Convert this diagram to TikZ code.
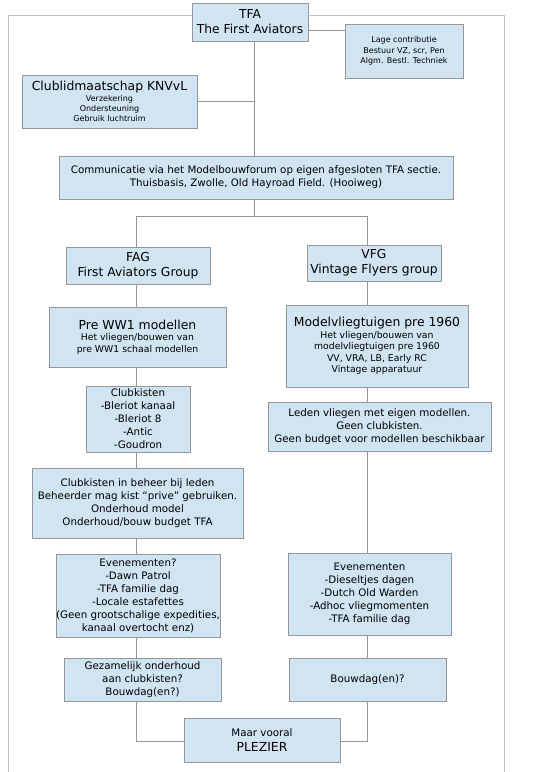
\documentclass[tikz,border=0pt]{standalone}
\usepackage{fontspec}
\setmainfont{DejaVu Sans}
\usepackage{tikz}

\definecolor{boxblue}{RGB}{208,228,242}
\definecolor{boxline}{RGB}{150,150,150}
\definecolor{framegray}{RGB}{192,192,192}

\newcommand{\txtbig}{\fontsize{12.4}{13.5}\selectfont}
\newcommand{\txttitle}{\fontsize{12.3}{15}\selectfont}
\newcommand{\txtmed}{\fontsize{10.3}{13}\selectfont}
\newcommand{\txtsub}{\fontsize{9.3}{11.5}\selectfont}
\newcommand{\txtsmall}{\fontsize{8}{10.3}\selectfont}

\tikzset{
  box/.style={draw=boxline, fill=boxblue, align=center, inner sep=0pt,
    font=\txtmed},
  link/.style={draw=boxline, line width=0.8pt},
  frame/.style={draw=framegray, line width=0.8pt}
}

\begin{document}
\begin{tikzpicture}[x=1pt,y=-1pt]
\useasboundingbox (0,0) rectangle (541,772);

% kolommen
\coordinate (trunk) at (254,0);
\coordinate (lcol) at (136,0);
\coordinate (rcol) at (367,0);
\coordinate (tie) at (0,30);
\coordinate (split) at (0,216);
\coordinate (foot) at (0,741);

\node [box, minimum width=116, minimum height=38, font=\txttitle] (tfa) at (250,22) {TFA\\The First Aviators};
\node [box, minimum width=118, minimum height=54, font=\txtsmall] (lage) at (404,51) {Lage contributie\\Bestuur VZ, scr, Pen\\Algm. Bestl. Techniek};
\node [box, minimum width=175, minimum height=53, font=\txtsmall] (club) at (109.5,101.5) {\txtbig Clublidmaatschap KNVvL\\\txtsmall Verzekering\\Ondersteuning\\Gebruik luchtruim};
\node [box, minimum width=394, minimum height=43] (comm) at (256,177.5) {Communicatie via het Modelbouwforum op eigen afgesloten TFA sectie.\\Thuisbasis, Zwolle, Old Hayroad Field. (Hooiweg)};

% FAG
\node [box, minimum width=144, minimum height=37, font=\txttitle] (fag) at (138,265.5) {FAG\\First Aviators Group};
\node [box, minimum width=177, minimum height=60, font=\txtsub] (pre) at (137.5,337) {\txtbig Pre WW1 modellen\\\txtsub Het vliegen/bouwen van\\pre WW1 schaal modellen};
\node [box, minimum width=104, minimum height=66] (kist) at (138,419) {Clubkisten\\-Bleriot kanaal\\-Bleriot 8\\-Antic\\-Goudron};
\node [box, minimum width=211, minimum height=70] (beheer) at (137.5,503) {Clubkisten in beheer bij leden\\Beheerder mag kist “prive” gebruiken.\\Onderhoud model\\Onderhoud/bouw budget TFA};
\node [box, minimum width=162, minimum height=83] (evl) at (138,595.5) {Evenementen?\\-Dawn Patrol\\-TFA familie dag\\-Locale estafettes\\(Geen grootschalige expedities,\\kanaal overtocht enz)};
\node [box, minimum width=157, minimum height=43] (gez) at (142.5,679.5) {Gezamelijk onderhoud\\aan clubkisten?\\Bouwdag(en?)};

% VFG
\node [box, minimum width=134, minimum height=36, font=\txttitle] (vfg) at (374,263) {VFG\\Vintage Flyers group};
\node [box, minimum width=182, minimum height=82, font=\txtsub] (mvl) at (377,346) {\txtbig Modelvliegtuigen pre 1960\\\txtsub Het vliegen/bouwen van\\modelvliegtuigen pre 1960\\VV, VRA, LB, Early RC\\Vintage apparatuur};
\node [box, minimum width=223, minimum height=49] (leden) at (379.5,426.5) {Leden vliegen met eigen modellen.\\Geen clubkisten.\\Geen budget voor modellen beschikbaar};
\node [box, minimum width=163, minimum height=82] (evr) at (369.5,594) {Evenementen\\-Dieseltjes dagen\\-Dutch Old Warden\\-Adhoc vliegmomenten\\-TFA familie dag};
\node [box, minimum width=157, minimum height=43] (bouw) at (367.5,679.5) {Bouwdag(en)?};

\node [box, minimum width=156, minimum height=44] (plez) at (262,740) {Maar vooral\\[2pt]\txtbig PLEZIER};

% kader
\draw [frame] (tfa.west |- 0,15) -- (8,15) -- (8,772);
\draw [frame] (tfa.east |- 0,15) -- (504,15) -- (504,772);

% verbindingen
\draw [link] (tfa.south -| trunk) -- (comm.north -| trunk);
\draw [link] (tfa.east |- tie) -- (lage.west |- tie);
\draw [link] (club.east) -- (club.east -| trunk);
\draw [link] (comm.south -| trunk) -- (split -| trunk);
\draw [link] (fag.north -| lcol) -- (split -| lcol) -- (split -| rcol) -- (vfg.north -| rcol);

\foreach \a/\b in {fag/pre, pre/kist, kist/beheer, beheer/evl, evl/gez}
  \draw [link] (\a.south -| lcol) -- (\b.north -| lcol);
\foreach \a/\b in {vfg/mvl, mvl/leden, leden/evr, evr/bouw}
  \draw [link] (\a.south -| rcol) -- (\b.north -| rcol);

\draw [link] (gez.south -| lcol) -- (foot -| lcol) -- (foot -| plez.west);
\draw [link] (bouw.south -| rcol) -- (foot -| rcol) -- (foot -| plez.east);

\end{tikzpicture}
\end{document}
